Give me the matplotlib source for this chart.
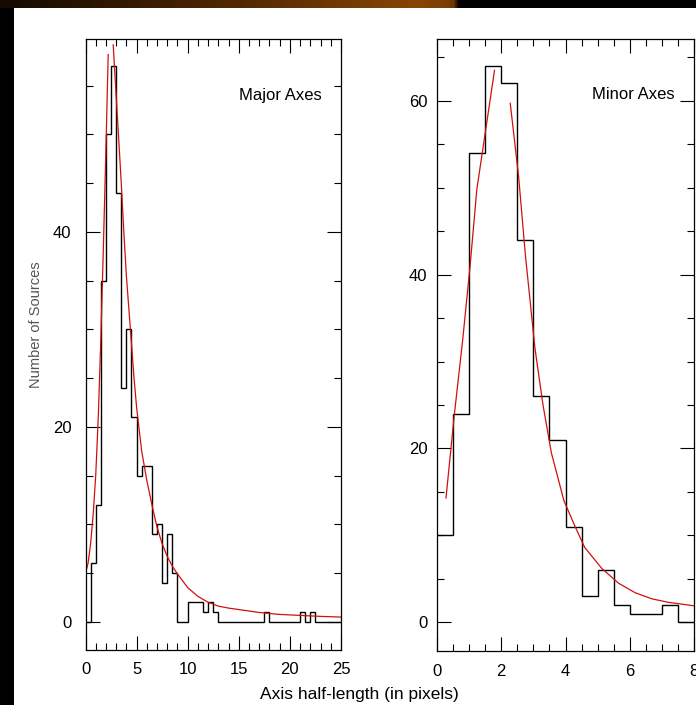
import numpy as np
import matplotlib.pyplot as plt
from matplotlib.patches import Rectangle
from matplotlib.colors import LinearSegmentedColormap
from matplotlib.ticker import MultipleLocator

plt.rcParams['font.family'] = ['Liberation Sans', 'DejaVu Sans']

# histogram counts, bins of 0.5 pixel starting at 0
major_counts = [0, 6, 12, 35, 50, 57, 44, 24, 30, 21, 15, 16, 16, 9, 10, 4, 9, 5,
                0, 0, 2, 2, 2, 1, 2, 1, 0, 0, 0, 0, 0, 0, 0, 0, 0, 1,
                0, 0, 0, 0, 0, 0, 1, 0, 1, 0, 0, 0, 0, 0]
minor_counts = [10, 24, 54, 64, 62, 44, 26, 21, 11, 3, 6, 2, 1, 1, 2, 0]
bin_width = 0.5

# red fit curves (two pieces per panel)
major_fit_a_x = [0.0, 0.25, 0.5, 0.75, 1.0, 1.25, 1.5, 1.75, 2.0, 2.22]
major_fit_a_y = [5.0, 6.0, 8.0, 11.0, 15.0, 21.0, 29.0, 38.5, 48.5, 58.2]
major_fit_b_x = [2.71, 3.0, 3.25, 3.5, 3.75, 4.0, 4.25, 4.5, 4.75, 5.0, 5.5, 6.0, 6.5,
                 7.0, 7.5, 8.0, 8.5, 9.0, 10.0, 11.0, 12.0, 13.0, 14.0, 15.0, 17.0,
                 19.0, 21.0, 23.0, 25.0]
major_fit_b_y = [59.2, 54.0, 49.5, 45.0, 40.0, 35.5, 32.0, 28.5, 25.0, 22.0, 17.5, 14.5, 12.0,
                 9.7, 8.0, 6.7, 5.7, 4.9, 3.5, 2.6, 2.0, 1.6, 1.4, 1.25, 0.95,
                 0.75, 0.65, 0.55, 0.48]

minor_fit_a_x = [0.28, 0.54, 0.8, 1.03, 1.24, 1.55, 1.79]
minor_fit_a_y = [14.3, 23.9, 32.5, 41.0, 49.8, 57.5, 63.5]
minor_fit_b_x = [2.28, 2.54, 2.75, 3.05, 3.3, 3.56, 3.95, 4.3, 4.6, 5.13, 5.65, 6.17,
                 6.69, 7.2, 7.6, 8.0]
minor_fit_b_y = [59.7, 51.3, 42.3, 31.5, 25.0, 19.5, 14.0, 11.0, 8.6, 6.2, 4.5, 3.4,
                 2.7, 2.3, 2.1, 1.9]

W, H = 696, 705
fig = plt.figure(figsize=(W / 100, H / 100), dpi=100, facecolor='white')

# dark frame: black strip on the left, orange-brown band on top
fig.add_artist(Rectangle((0, 0), 14 / W, 1, transform=fig.transFigure,
                         facecolor='black', edgecolor='none', zorder=0))
band = fig.add_axes([0, 1 - 8 / H, 1, 8 / H])
band_cmap = LinearSegmentedColormap.from_list(
    'band', [(0.0, '#140a00'), (0.15, '#2e1600'), (0.4, '#5e2e02'),
             (0.6, '#874404'), (0.65, '#7a3c04'), (0.66, '#000000'), (1.0, '#000000')])
band.imshow(np.linspace(0, 1, 300)[None, :], cmap=band_cmap, aspect='auto')
band.axis('off')


def style_axes(ax, xmaj, xmin, ymaj, ymin, ypad):
    ax.xaxis.set_major_locator(MultipleLocator(xmaj))
    ax.xaxis.set_minor_locator(MultipleLocator(xmin))
    ax.yaxis.set_major_locator(MultipleLocator(ymaj))
    ax.yaxis.set_minor_locator(MultipleLocator(ymin))
    ax.tick_params(which='both', direction='in', top=True, right=True,
                   colors='black', labelsize=12, width=0.8)
    ax.tick_params(which='major', length=10)
    ax.tick_params(which='minor', length=5)
    ax.tick_params(axis='y', pad=ypad)
    ax.tick_params(axis='x', pad=9)
    for s in ax.spines.values():
        s.set_linewidth(0.9)


# left panel: major axes
ax1 = fig.add_axes([85.5 / W, 55 / H, 255.5 / W, 611 / H])
edges1 = np.arange(len(major_counts) + 1) * bin_width
ax1.stairs(major_counts, edges1, baseline=None, color='black', lw=1.0)
ax1.plot(major_fit_a_x, major_fit_a_y, color='#d01010', lw=0.9)
ax1.plot(major_fit_b_x, major_fit_b_y, color='#d01010', lw=0.9)
ax1.set_xlim(0, 25)
ax1.set_ylim(-2.9, 59.8)
style_axes(ax1, 5, 1, 20, 5, 10)
ax1.text(19.1, 54.0, 'Major Axes', fontsize=12, ha='center', va='center')

# right panel: minor axes
ax2 = fig.add_axes([437 / W, 54 / H, 257 / W, 612 / H])
edges2 = np.arange(len(minor_counts) + 1) * bin_width
ax2.stairs(minor_counts, edges2, baseline=None, color='black', lw=1.0)
ax2.plot(minor_fit_a_x, minor_fit_a_y, color='#d01010', lw=0.9)
ax2.plot(minor_fit_b_x, minor_fit_b_y, color='#d01010', lw=0.9)
ax2.set_xlim(0, 8)
ax2.set_ylim(-3.3, 67.1)
style_axes(ax2, 2, 0.5, 20, 5, 7)
ax2.text(6.12, 60.7, 'Minor Axes', fontsize=12, ha='center', va='center')

fig.text(35.5 / W, 1 - 325 / H, 'Number of Sources', rotation=90, color='#555555',
         fontsize=10.5, ha='center', va='center')
fig.text(359 / W, 1 - 694 / H, 'Axis half-length (in pixels)', fontsize=12.5,
         ha='center', va='center')

fig.savefig('out.png', dpi=100, facecolor=fig.get_facecolor())
